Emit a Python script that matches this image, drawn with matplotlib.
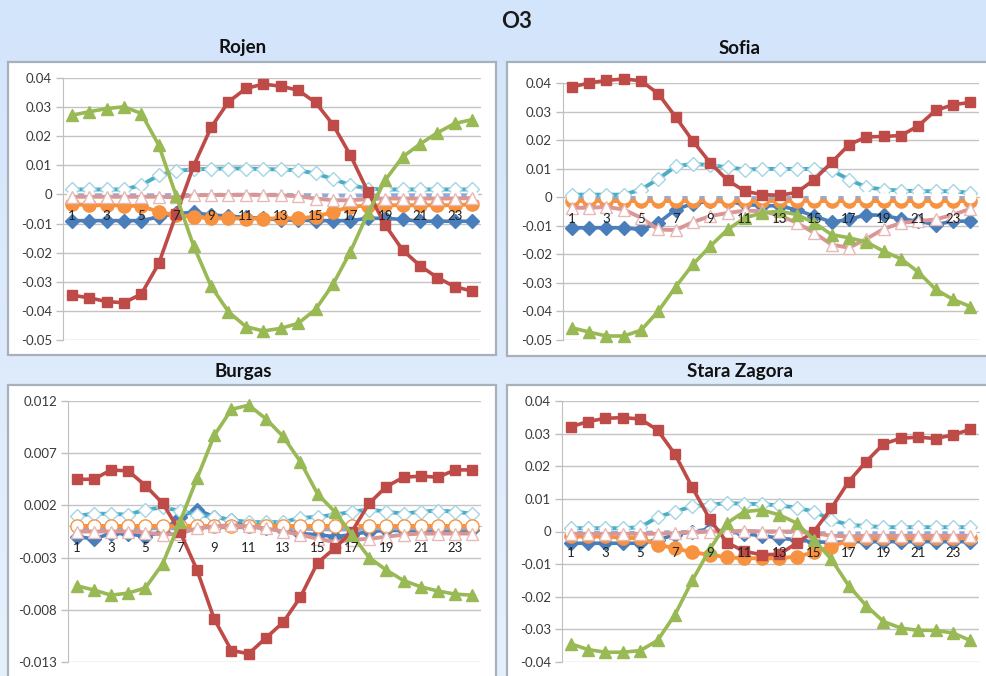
import numpy as np
import matplotlib.pyplot as plt
from matplotlib.patches import Rectangle
from matplotlib.colors import LinearSegmentedColormap

plt.rcParams['font.family'] = ['Lato', 'DejaVu Sans']

W, H = 987, 676

hours = list(range(1, 25))
hour_labels = [str(h) for h in hours]

# Rojen
rojen_diamond = [-0.009, -0.009, -0.009, -0.009, -0.009, -0.0077, -0.0065, -0.0062, -0.0071, -0.0074, -0.0079, -0.0082,
                 -0.0088, -0.0088, -0.009, -0.009, -0.009, -0.0082, -0.0082, -0.0086, -0.0092, -0.0092, -0.0092, -0.0092]
rojen_square = [-0.0346, -0.0355, -0.0368, -0.0372, -0.0342, -0.0237, -0.0068, 0.0098, 0.023, 0.0318, 0.0364, 0.0379,
                0.0372, 0.0358, 0.0316, 0.024, 0.0135, 0.001, -0.0105, -0.0191, -0.0245, -0.0286, -0.0317, -0.0332]
rojen_triangle = [0.0272, 0.0284, 0.0295, 0.0301, 0.0278, 0.0169, -0.0005, -0.0177, -0.0315, -0.0403, -0.0454, -0.0469,
                  -0.046, -0.0443, -0.0395, -0.0309, -0.0197, -0.0065, 0.0049, 0.0129, 0.0173, 0.0212, 0.0244, 0.0257]
rojen_x = [-0.0003, -0.0003, -0.0003, -0.0003, -0.0003, -0.0003, -0.0002, -0.0002, -0.0001, -0.0001, -0.0001, -0.0001,
           -0.0001, -0.0002, -0.0003, -0.0004, -0.0004, -0.0004, -0.0003, -0.0003, -0.0003, -0.0003, -0.0003, -0.0003]
rojen_open_diamond = [0.0017, 0.0017, 0.0017, 0.0017, 0.0032, 0.0066, 0.0081, 0.0086, 0.0088, 0.0089, 0.0089, 0.0087,
                      0.0086, 0.0083, 0.0072, 0.0053, 0.0032, 0.002, 0.0017, 0.0017, 0.0017, 0.0017, 0.0017, 0.0017]
rojen_open_triangle = [-0.0008, -0.0008, -0.0008, -0.0008, -0.0008, -0.0008, -0.001, -0.0003, -0.0002, -0.0002, -0.0001, -0.0002,
                       -0.0003, -0.0006, -0.0014, -0.002, -0.002, -0.0016, -0.0014, -0.0014, -0.0014, -0.0014, -0.0014, -0.0012]
rojen_circle = [-0.0033, -0.0037, -0.0037, -0.0038, -0.004, -0.006, -0.0071, -0.0077, -0.0082, -0.0082, -0.0083, -0.0083,
                -0.0082, -0.0082, -0.0077, -0.006, -0.0042, -0.0038, -0.0037, -0.0037, -0.0037, -0.0037, -0.0037, -0.0034]
rojen_open_circle = [-0.0005, -0.0005, -0.0005, -0.0005, -0.0005, -0.0005, -0.0004, -0.0003, -0.0003, -0.0003, -0.0003, -0.0003,
                     -0.0003, -0.0004, -0.0006, -0.0008, -0.0008, -0.0007, -0.0006, -0.0006, -0.0006, -0.0006, -0.0006, -0.0005]

# Sofia
sofia_diamond = [-0.0107, -0.0107, -0.0107, -0.0107, -0.0113, -0.009, -0.0043, -0.0022, -0.0014, -0.0015, -0.0025, -0.003,
                 -0.003, -0.0045, -0.0066, -0.0087, -0.0078, -0.0061, -0.0064, -0.0076, -0.0084, -0.0096, -0.0084, -0.0084]
sofia_square = [0.0386, 0.04, 0.0409, 0.0414, 0.0408, 0.0362, 0.0281, 0.0196, 0.012, 0.0059, 0.0021, 0.0009,
                0.0007, 0.0017, 0.0062, 0.0122, 0.0184, 0.0211, 0.0213, 0.0216, 0.025, 0.0304, 0.0324, 0.0332]
sofia_triangle = [-0.0457, -0.0472, -0.0486, -0.0486, -0.0466, -0.0399, -0.0314, -0.0235, -0.0171, -0.0113, -0.0072, -0.0055,
                  -0.0049, -0.0061, -0.009, -0.0131, -0.0142, -0.0157, -0.0189, -0.0216, -0.0262, -0.0323, -0.0358, -0.0383]
sofia_x = [-0.0002, -0.0002, -0.0002, -0.0002, -0.0002, -0.0002, -0.0002, -0.0002, -0.0002, -0.0002, -0.0002, -0.0002,
           -0.0002, -0.0002, -0.0002, -0.0002, -0.0002, -0.0002, -0.0002, -0.0002, -0.0002, -0.0002, -0.0002, -0.0002]
sofia_open_diamond = [0.0009, 0.0009, 0.0009, 0.0009, 0.0027, 0.0064, 0.0108, 0.0117, 0.0112, 0.0105, 0.0097, 0.0099,
                      0.0099, 0.0099, 0.0099, 0.0094, 0.0062, 0.0035, 0.0027, 0.0023, 0.0021, 0.0021, 0.0021, 0.0015]
sofia_open_triangle = [-0.0037, -0.0037, -0.0034, -0.0043, -0.0072, -0.0113, -0.0115, -0.0087, -0.0066, -0.0055, -0.0047, -0.0049,
                       -0.0064, -0.009, -0.0125, -0.0166, -0.0177, -0.0146, -0.0111, -0.009, -0.0084, -0.0078, -0.0061, -0.0041]
sofia_circle = [-0.0014, -0.0014, -0.0014, -0.0014, -0.0014, -0.0014, -0.0014, -0.0014, -0.0014, -0.0014, -0.0014, -0.0014,
                -0.0014, -0.0014, -0.0014, -0.0014, -0.0014, -0.0014, -0.0014, -0.0014, -0.0014, -0.0014, -0.0014, -0.0014]
sofia_open_circle = [0.0, 0.0, 0.0, 0.0, 0.0, 0.0, 0.0, 0.0, 0.0, 0.0, 0.0, 0.0,
                     0.0, 0.0, 0.0, 0.0, 0.0, 0.0, 0.0, 0.0, 0.0, 0.0, 0.0, 0.0]

# Burgas
burgas_diamond = [-0.001, -0.0012, -0.0007, -0.0007, -0.001, -0.0005, 0.0009, 0.0016, 0.0009, 0.0006, 0.0, -0.0002,
                  -0.0004, -0.0007, -0.0008, -0.001, -0.0008, -0.0005, -0.0004, -0.0004, -0.0004, -0.0004, -0.0004, -0.0004]
burgas_square = [0.0045, 0.0045, 0.0054, 0.0053, 0.0039, 0.0022, -0.0005, -0.0042, -0.0089, -0.0119, -0.0122, -0.0107,
                 -0.0092, -0.0068, -0.0035, -0.0021, -0.0005, 0.0022, 0.0038, 0.0047, 0.0048, 0.0047, 0.0054, 0.0054]
burgas_triangle = [-0.0057, -0.0061, -0.0066, -0.0064, -0.0059, -0.0036, 0.0004, 0.0046, 0.0087, 0.0112, 0.0116, 0.0103,
                   0.0086, 0.0062, 0.0031, 0.0014, -0.0008, -0.003, -0.0042, -0.0052, -0.0058, -0.0062, -0.0065, -0.0066]
burgas_x = [-0.0002, -0.0002, -0.0002, -0.0002, -0.0002, -0.0002, -0.0002, -0.0001, -0.0001, -0.0001, -0.0001, -0.0001,
            -0.0002, -0.0002, -0.0003, -0.0003, -0.0003, -0.0002, -0.0002, -0.0002, -0.0002, -0.0002, -0.0002, -0.0002]
burgas_open_diamond = [0.001, 0.0012, 0.0012, 0.0011, 0.0016, 0.0018, 0.0015, 0.0011, 0.0009, 0.0006, 0.0004, 0.0004,
                       0.0004, 0.0008, 0.0009, 0.0011, 0.0014, 0.0016, 0.0014, 0.0012, 0.0014, 0.0015, 0.0014, 0.0012]
burgas_open_triangle = [-0.0005, -0.0005, -0.0005, -0.0005, -0.0006, -0.0008, -0.0007, -0.0002, 0.0, 0.0001, 0.0, -0.0002,
                        -0.0005, -0.0008, -0.0012, -0.0015, -0.0013, -0.0012, -0.001, -0.0008, -0.0007, -0.0007, -0.0007, -0.0007]
burgas_circle = [0.0, 0.0, 0.0, 0.0, 0.0, 0.0, 0.0, 0.0, 0.0, 0.0, 0.0, 0.0,
                 0.0, 0.0, 0.0, 0.0, 0.0, 0.0, 0.0, 0.0, 0.0, 0.0, 0.0, 0.0]
burgas_open_circle = [0.0, 0.0, 0.0, 0.0, 0.0, 0.0, 0.0, 0.0, 0.0, 0.0, 0.0, 0.0,
                      0.0, 0.0, 0.0, 0.0, 0.0, 0.0, 0.0, 0.0, 0.0, 0.0, 0.0, 0.0]

# Stara Zagora
zagora_diamond = [-0.0036, -0.0036, -0.0036, -0.0036, -0.0036, -0.0026, -0.001, 0.0, 0.0007, 0.0, -0.0007, -0.0013,
                  -0.002, -0.0026, -0.0031, -0.0034, -0.0031, -0.0031, -0.0031, -0.0031, -0.0031, -0.0031, -0.0031, -0.0031]
zagora_square = [0.0321, 0.0337, 0.0347, 0.0349, 0.0345, 0.0311, 0.0237, 0.0135, 0.0038, -0.0034, -0.0061, -0.0071,
                 -0.007, -0.0036, 0.0, 0.0071, 0.0153, 0.0214, 0.0268, 0.0286, 0.0289, 0.0285, 0.0296, 0.0313]
zagora_triangle = [-0.0344, -0.0362, -0.037, -0.037, -0.0365, -0.0334, -0.0255, -0.015, -0.0055, 0.0026, 0.0061, 0.0066,
                   0.0051, 0.0026, -0.0026, -0.0085, -0.0166, -0.0227, -0.0276, -0.0296, -0.0303, -0.0303, -0.0311, -0.0334]
zagora_x = [-0.0004, -0.0004, -0.0004, -0.0004, -0.0004, -0.0003, -0.0002, -0.0001, 0.0, 0.0, 0.0, 0.0,
            -0.0001, -0.0002, -0.0004, -0.0006, -0.0006, -0.0006, -0.0005, -0.0005, -0.0005, -0.0005, -0.0005, -0.0005]
zagora_open_diamond = [0.001, 0.001, 0.001, 0.001, 0.0013, 0.0044, 0.0061, 0.0077, 0.0082, 0.0087, 0.0085, 0.0084,
                       0.008, 0.0073, 0.0061, 0.0036, 0.002, 0.0017, 0.0013, 0.0013, 0.0013, 0.0013, 0.0013, 0.0013]
zagora_open_triangle = [-0.0007, -0.0007, -0.0007, -0.0007, -0.0007, -0.0007, -0.0005, -0.0002, 0.0, 0.0, 0.0002, 0.0,
                        0.0, 0.0, -0.0005, -0.0013, -0.0015, -0.0013, -0.0013, -0.0013, -0.0013, -0.0013, -0.0013, -0.0013]
zagora_circle = [-0.0015, -0.0015, -0.0015, -0.002, -0.002, -0.0041, -0.0051, -0.0064, -0.0071, -0.0079, -0.0082, -0.0082,
                 -0.0082, -0.0077, -0.0064, -0.0046, -0.0028, -0.002, -0.002, -0.002, -0.002, -0.002, -0.002, -0.002]
zagora_open_circle = [0.0, 0.0, 0.0, 0.0, 0.0, 0.0, 0.0, 0.0, 0.0, 0.0, 0.0, 0.0,
                      0.0, 0.0, 0.0, 0.0, 0.0, 0.0, 0.0, 0.0, 0.0, 0.0, 0.0, 0.0]

rojen_yticks = [-0.05, -0.04, -0.03, -0.02, -0.01, 0, 0.01, 0.02, 0.03, 0.04]
sofia_yticks = [-0.05, -0.04, -0.03, -0.02, -0.01, 0, 0.01, 0.02, 0.03, 0.04]
burgas_yticks = [-0.013, -0.008, -0.003, 0.002, 0.007, 0.012]
zagora_yticks = [-0.04, -0.03, -0.02, -0.01, 0, 0.01, 0.02, 0.03, 0.04]

styles = {
    'diamond':       dict(color='#4a7ebb', marker='D', ms=7.0, mfc='#4a7ebb', mec='#4a7ebb', lw=2.6, zorder=3.0),
    'x':             dict(color='#93a9d4', marker='x', ms=5.0, mfc='#93a9d4', mec='#93a9d4', lw=2.8, zorder=3.2),
    'open_diamond':  dict(color='#4bacc6', marker='D', ms=7.5, mfc='white', mec='#a5d5e3', lw=2.8, zorder=3.4),
    'circle':        dict(color='#f69240', marker='o', ms=9.5, mfc='#f69240', mec='#f69240', lw=2.8, zorder=3.6),
    'open_circle':   dict(color='#b9cde5', marker='o', ms=7.5, mfc='white', mec='white', lw=0.0, zorder=3.8),
    'open_triangle': dict(color='#d99694', marker='^', ms=8.0, mfc='white', mec='#e6b9b8', lw=2.8, zorder=4.0),
    'square':        dict(color='#be4b48', marker='s', ms=7.0, mfc='#be4b48', mec='#be4b48', lw=2.6, zorder=6.0),
    'triangle':      dict(color='#98b954', marker='^', ms=8.5, mfc='#98b954', mec='#98b954', lw=2.6, zorder=6.1),
}

panels = [
    dict(title='Rojen', ylim=(-0.05, 0.04), yticks=rojen_yticks,
         ax_px=(63, 78, 481, 340), frame_px=(8, 62, 496, 355), title_xy=(243, 48),
         series=dict(diamond=rojen_diamond, square=rojen_square, triangle=rojen_triangle, x=rojen_x,
                     open_diamond=rojen_open_diamond, open_triangle=rojen_open_triangle,
                     circle=rojen_circle, open_circle=rojen_open_circle)),
    dict(title='Sofia', ylim=(-0.05, 0.04), yticks=sofia_yticks,
         ax_px=(563, 83, 979, 340), frame_px=(507, 62, 995, 356), title_xy=(740, 48),
         series=dict(diamond=sofia_diamond, square=sofia_square, triangle=sofia_triangle, x=sofia_x,
                     open_diamond=sofia_open_diamond, open_triangle=sofia_open_triangle,
                     circle=sofia_circle, open_circle=sofia_open_circle)),
    dict(title='Burgas', ylim=(-0.013, 0.012), yticks=burgas_yticks,
         ax_px=(68, 401, 481, 662), frame_px=(8, 385, 496, 690), title_xy=(243, 372),
         series=dict(diamond=burgas_diamond, square=burgas_square, triangle=burgas_triangle, x=burgas_x,
                     open_diamond=burgas_open_diamond, open_triangle=burgas_open_triangle,
                     circle=burgas_circle, open_circle=burgas_open_circle)),
    dict(title='Stara Zagora', ylim=(-0.04, 0.04), yticks=zagora_yticks,
         ax_px=(562, 401, 979, 662), frame_px=(507, 385, 995, 690), title_xy=(740, 372),
         series=dict(diamond=zagora_diamond, square=zagora_square, triangle=zagora_triangle, x=zagora_x,
                     open_diamond=zagora_open_diamond, open_triangle=zagora_open_triangle,
                     circle=zagora_circle, open_circle=zagora_open_circle)),
]


def fig_rect(x0, y0, x1, y1):
    return [x0 / W, 1 - y1 / H, (x1 - x0) / W, (y1 - y0) / H]


fig = plt.figure(figsize=(W / 100, H / 100), dpi=100)

# background gradient
bg = fig.add_axes([0, 0, 1, 1], zorder=-10)
cmap = LinearSegmentedColormap.from_list('bg', ['#d3e5fc', '#e6f0fb'])
bg.imshow(np.linspace(0, 1, 256).reshape(-1, 1), aspect='auto', cmap=cmap, extent=[0, 1, 0, 1])
bg.set_axis_off()

fig.text(517 / W, 1 - 21 / H, 'O3', ha='center', va='center', fontsize=16, fontweight='bold', color='#1a1a1a')

for p in panels:
    x0, y0, x1, y1 = p['frame_px']
    fig.patches.append(Rectangle((x0 / W, 1 - y1 / H), (x1 - x0) / W, (y1 - y0) / H,
                                 transform=fig.transFigure, facecolor='white',
                                 edgecolor='#a7b1bb', linewidth=1.6, zorder=-5))
    tx, ty = p['title_xy']
    fig.text(tx / W, 1 - ty / H, p['title'], ha='center', va='center',
             fontsize=13.5, fontweight='bold', color='#111111')

    ax = fig.add_axes(fig_rect(*p['ax_px']))
    ax.set_facecolor('none')
    for name in ['diamond', 'x', 'open_diamond', 'circle', 'open_circle', 'open_triangle', 'square', 'triangle']:
        st = styles[name]
        ax.plot(hours, p['series'][name], color=st['color'], lw=st['lw'], marker=st['marker'],
                ms=st['ms'], mfc=st['mfc'], mec=st['mec'], mew=1.0, zorder=st['zorder'],
                solid_joinstyle='round', clip_on=False)

    ax.set_xlim(0.5, 24.5)
    ax.set_ylim(*p['ylim'])
    ax.set_yticks(p['yticks'])
    ax.set_yticklabels([f'{v:g}' for v in p['yticks']])
    ax.tick_params(axis='y', length=5, width=1, color='#bfbfbf', labelsize=9.5, labelcolor='#3a3a3a', pad=3)
    ax.set_xticks([])
    ax.grid(axis='y', color='#c4c4c4', linewidth=1.0, zorder=0)
    ax.set_axisbelow(True)
    for side in ['top', 'right']:
        ax.spines[side].set_visible(False)
    ax.spines['left'].set_color('#bfbfbf')
    ax.spines['bottom'].set_position(('data', 0))
    ax.spines['bottom'].set_color('#bfbfbf')

    for h, lab in zip(hours, hour_labels):
        if h % 2 == 1:
            ax.annotate(lab, (h, 0), xytext=(0, -15.5), textcoords='offset points',
                        ha='center', va='center', fontsize=9.5, color='#222222', zorder=10)

fig.savefig('out.png', dpi=100)
